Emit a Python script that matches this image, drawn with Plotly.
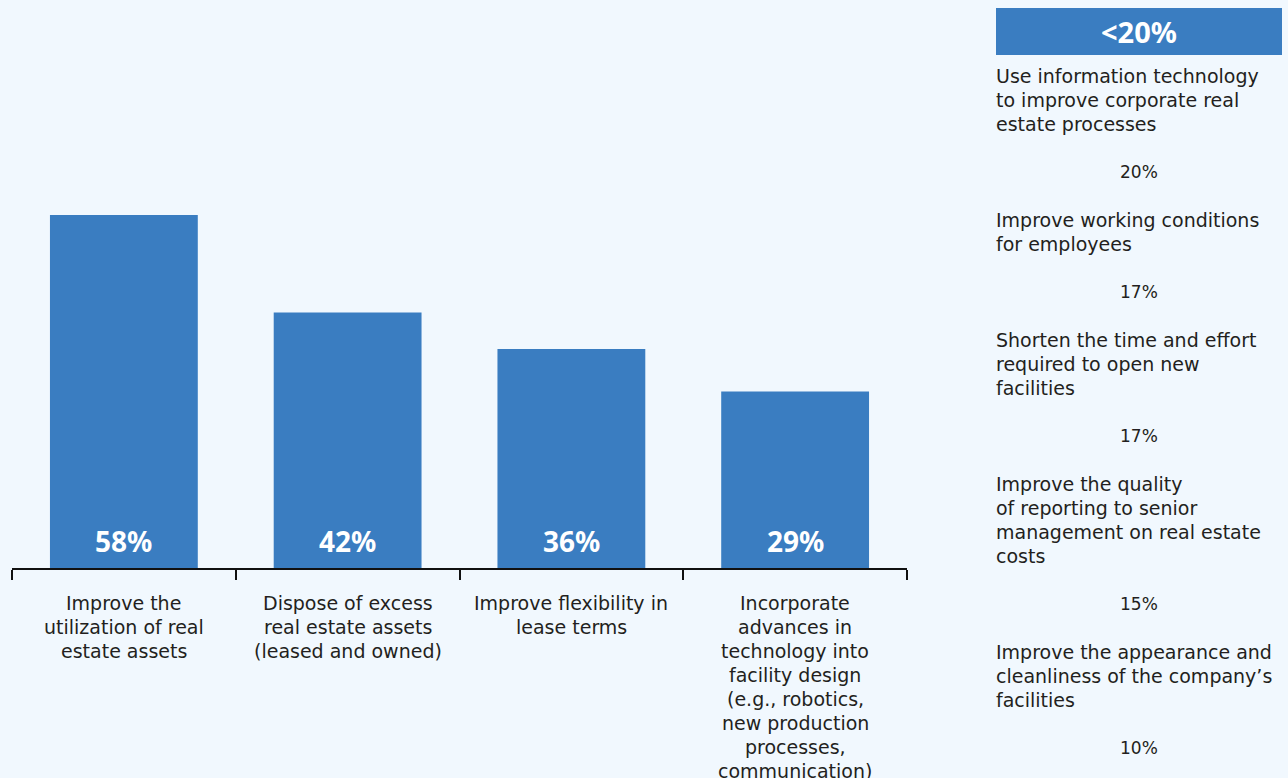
import plotly.graph_objects as go

W, H = 1288, 778

categories = [
    ["Improve the", "utilization of real", "estate assets"],
    ["Dispose of excess", "real estate assets", "(leased and owned)"],
    ["Improve flexibility in", "lease terms"],
    ["Incorporate", "advances in", "technology into", "facility design",
     "(e.g., robotics,", "new production", "processes,", "communication)"],
]
values = [58, 42, 36, 29]

side_header = "<20%"
side_items = [
    ["Use information technology", "to improve corporate real", "estate processes"],
    ["Improve working conditions", "for employees"],
    ["Shorten the time and effort", "required to open new", "facilities"],
    ["Improve the quality", "of reporting to senior", "management on real estate", "costs"],
    ["Improve the appearance and", "cleanliness of the company\u2019s", "facilities"],
]
side_values = [20, 17, 17, 15, 10]

BAR = "#3A7DC1"
BG = "#F1F8FE"
TXT = "#231F20"
FONT = "DejaVu Sans, sans-serif"
BOLD = "Noto Sans, Open Sans, sans-serif"

def px_x(p):
    return p / W

def px_y(p):
    return 1 - p / H

fig = go.Figure()
fig.add_trace(go.Bar(
    x=list(range(len(values))), y=values,
    marker=dict(color=BAR, line=dict(width=0)),
    hoverinfo="skip",
))

annotations = []
LH = 24
# value labels inside bars
for i, v in enumerate(values):
    annotations.append(dict(
        x=i, y=0, xref="x", yref="y", text=f"<b>{v}%</b>", showarrow=False,
        yanchor="bottom", yshift=6, font=dict(size=28, color="white", family=BOLD),
    ))
# category labels (one annotation per line)
for i, lines in enumerate(categories):
    for j, ln in enumerate(lines):
        annotations.append(dict(
            x=i, y=px_y(603 + j * LH), xref="x", yref="paper", text=ln,
            showarrow=False, xanchor="center", yanchor="middle",
            font=dict(size=19, color=TXT, family=FONT),
        ))

# side panel
x0, x1 = 996, 1282
shapes = [dict(type="rect", xref="paper", yref="paper",
               x0=px_x(x0), x1=px_x(x1), y0=px_y(55), y1=px_y(8),
               fillcolor=BAR, line=dict(width=0), layer="below")]
annotations.append(dict(
    x=px_x((x0 + x1) / 2), y=px_y(32), xref="paper", yref="paper",
    text=f"<b>{side_header.replace('<', '&lt;')}</b>", showarrow=False,
    xanchor="center", yanchor="middle", font=dict(size=29, color="white", family=BOLD),
))
cur = 76
for lines, v in zip(side_items, side_values):
    for j, ln in enumerate(lines):
        annotations.append(dict(
            x=px_x(x0), y=px_y(cur + j * LH), xref="paper", yref="paper",
            text=ln, showarrow=False, xanchor="left", yanchor="middle", xshift=-2,
            font=dict(size=19, color=TXT, family=FONT),
        ))
    pct_y = cur + (len(lines) - 1) * LH + 48
    annotations.append(dict(
        x=px_x((x0 + x1) / 2), y=px_y(pct_y), xref="paper", yref="paper",
        text=f"{v}%", showarrow=False, xanchor="center", yanchor="middle",
        font=dict(size=17, color=TXT, family=FONT),
    ))
    cur = pct_y + 48

fig.update_layout(
    width=W, height=H,
    margin=dict(l=0, r=0, t=0, b=0),
    paper_bgcolor=BG, plot_bgcolor=BG,
    showlegend=False,
    bargap=1 - 148 / 224,
    xaxis=dict(
        domain=[px_x(12), px_x(907)], range=[-0.5, len(values) - 0.5],
        tickmode="array", tickvals=[i - 0.5 for i in range(len(values) + 1)],
        ticktext=[""] * (len(values) + 1),
        showline=True, linecolor="#111", linewidth=2,
        ticks="outside", ticklen=10, tickwidth=2, tickcolor="#111",
        showgrid=False, zeroline=False, fixedrange=True,
    ),
    yaxis=dict(
        domain=[px_y(568), 1], range=[0, 568 / (353 / 58)],
        visible=False, showgrid=False, zeroline=False, fixedrange=True,
    ),
    annotations=annotations,
    shapes=shapes,
)

fig.write_html(
    "out.html",
    config={"displayModeBar": False},
    post_script="document.body.style.margin='0';document.body.style.background='%s';" % BG,
)
